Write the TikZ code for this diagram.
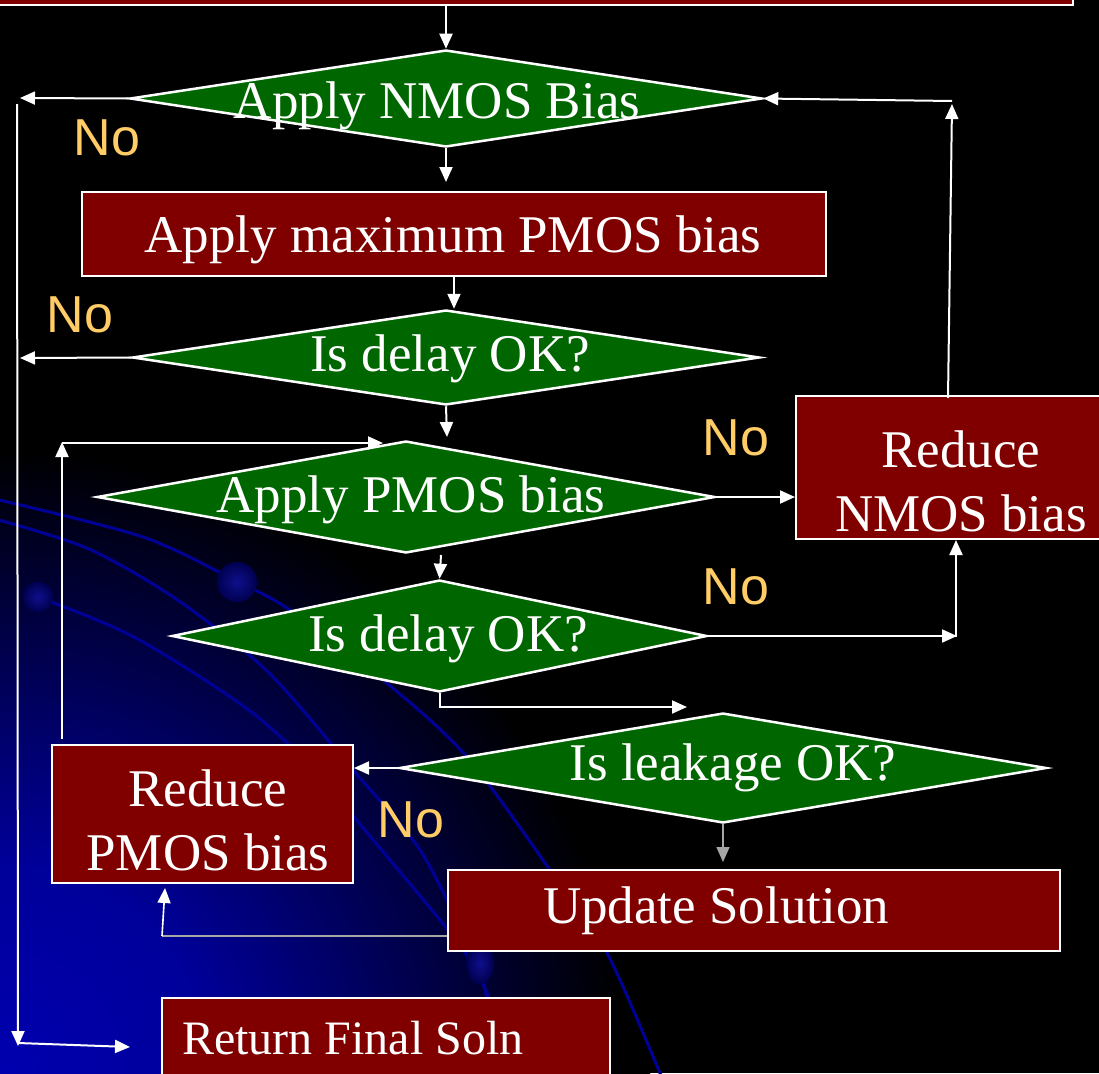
\documentclass[tikz,border=0pt]{standalone}
\usepackage{fontspec}
\setmainfont{Liberation Serif}
\newfontfamily\nofont{Liberation Sans}
\usetikzlibrary{arrows.meta,shapes.geometric}
\definecolor{dgreen}{RGB}{0,102,0}
\definecolor{dred}{RGB}{128,0,0}
\definecolor{noyel}{RGB}{255,204,102}
\definecolor{cb}{RGB}{0,0,175}
\definecolor{bgl}{RGB}{0,0,150}
\definecolor{garr}{RGB}{166,166,166}
\definecolor{ballin}{RGB}{15,15,140}
\definecolor{ballout}{RGB}{0,0,80}
\pgfdeclareradialshading{bluecorner}{\pgfpoint{0bp}{0bp}}{color(0bp)=(cb); color(8bp)=(cb!88!black); color(16bp)=(cb!45!black); color(24bp)=(black); color(50bp)=(black)}
\begin{document}
\begin{tikzpicture}[x=1pt,y=-1pt,
 arr/.style={draw=white, line width=2pt, -{Triangle[length=15pt,width=13pt]}},
 garrow/.style={draw=garr, line width=1.6pt, -{Triangle[length=15pt,width=13pt]}},
 dec/.style={shape=diamond, draw=white, line width=2.5pt, fill=dgreen, inner sep=0pt},
 box/.style={shape=rectangle, draw=white, line width=2pt, fill=dred, inner sep=0pt},
 txt/.style={text=white, font=\fontsize{53}{64}\selectfont, inner sep=0pt, anchor=base},
 notxt/.style={text=noyel, font=\nofont\fontsize{52}{60}\selectfont, inner sep=0pt},
 bgline/.style={draw=bgl, line width=3pt},
]
\useasboundingbox (0,0) rectangle (1099,1073);
\clip (0,0) rectangle (1099,1073);
% background
\fill[black] (0,0) rectangle (1099,1073);
\shade[shading=bluecorner] (0,1073) circle[radius=650pt];
\draw[bgline] plot[smooth] coordinates {(-5,499) (143,537) (238,582) (290,610) (383,680) (467,757) (557,880) (607,953) (660,1073) (670,1100)};
\draw[bgline] plot[smooth] coordinates {(-5,519) (89,549) (179,601) (268,672) (353,770) (420,850) (469,947) (484,985) (500,1073) (505,1100)};
\draw[bgline] plot[smooth] coordinates {(38,597) (134,637) (246,708) (312,768) (379,847) (440,920) (470,960) (492,1005) (515,1073) (520,1100)};
\shade[inner color=ballin, outer color=ballout] (237,582) circle[radius=20pt];
\shade[inner color=ballin, outer color=ballout] (38,597) circle[radius=15pt];
\shade[inner color=ballin, outer color=ballout] (480,963) ellipse[x radius=14pt, y radius=21pt];

% boxes
\node[box, minimum width=1093pt, minimum height=85pt] (B0) at (526.5,-37.5) {};
\node[box, minimum width=744pt, minimum height=84pt] (B1) at (454,234) {};
\node[box, minimum width=314pt, minimum height=143pt] (B2) at (953,467.5) {};
\node[box, minimum width=301pt, minimum height=138pt] (B3) at (202.5,814) {};
\node[box, minimum width=612pt, minimum height=81pt] (B4) at (754,910.5) {};
\node[box, minimum width=448pt, minimum height=112pt] (B5) at (386,1054) {};

% decisions
\node[dec, minimum width=632pt, minimum height=97pt] (D1) at (446,98.5) {};
\node[dec, minimum width=627pt, minimum height=95pt] (D2) at (446,357.5) {};
\node[dec, minimum width=618pt, minimum height=112pt] (D3) at (406,497) {};
\node[dec, minimum width=535pt, minimum height=112pt] (D4) at (439.5,636) {};
\node[dec, minimum width=647pt, minimum height=110pt] (D5) at (723,768) {};

% texts
\node[txt] (tD1) at (437,118) {Apply NMOS Bias};
\node[txt] (tB1) at (453,252) {Apply maximum PMOS bias};
\node[txt] (tD2) at (450,371) {Is delay OK?};
\node[txt] (tD3) at (411,512) {Apply PMOS bias};
\node[txt] (tD4) at (448,651) {Is delay OK?};
\node[txt] (tD5) at (733,780) {Is leakage OK?};
\node[txt] (tB2a) at (961,467) {Reduce};
\node[txt] (tB2b) at (961,531) {NMOS bias};
\node[txt] (tB3a) at (208,806) {Reduce};
\node[txt] (tB3b) at (208,870) {PMOS bias};
\node[txt] (tB4) at (716,923) {Update Solution};
\node[txt, anchor=base west, font=\fontsize{48}{56}\selectfont] (tB5) at (182,1054) {Return Final Soln};

\node[notxt] (N1) at (107,138) {No};
\node[notxt] (N2) at (80,315) {No};
\node[notxt] (N3) at (736,438) {No};
\node[notxt] (N4) at (736,587) {No};
\node[notxt] (N5) at (411,820) {No};

% coordinates
\coordinate (L1) at (20,98);
\coordinate (vt) at (17,104);
\coordinate (vb) at (18,1046);
\coordinate (rs) at (18,1043);
\coordinate (rt) at (130,1047);
\coordinate (L2) at (20,358);
\coordinate (a1) at (446,182);
\coordinate (a3) at (447,437);
\coordinate (a4s) at (441,555);
\coordinate (a5) at (957,636);
\coordinate (a6) at (956,637);
\coordinate (a7) at (687,707);
\coordinate (a8) at (723,862);
\coordinate (a9) at (162,936);
\coordinate (a10) at (165,888);
\coordinate (a11s) at (62,739);
\coordinate (a11) at (62,442);
\coordinate (a11b) at (62,443);
\coordinate (a12) at (383,443);
\coordinate (u1) at (948,398);
\coordinate (u2) at (952,104);
\coordinate (u3) at (952,101);

% connectors
\draw[arr] (D1.north |- B0.south) -- (D1.north);
\draw[arr] (D1.west) -- (L1);
\draw[arr] (vt) -- (vb);
\draw[arr] (rs) -- (rt);
\draw[arr] (D2.west) -- (L2);
\draw[arr] (D1.south) -- (a1);
\draw[arr] (B1.south) -- (B1.south |- D2.north);
\draw[arr] (D2.south) -- (a3);
\draw[arr] (D3.east) -- (D3.east -| B2.west);
\draw[arr] (a4s) -- (D4.north);
\draw[arr] (D4.east) -- (a5);
\draw[arr] (a6) -- (a6 |- B2.south);
\draw[arr] (D4.south) |- (a7);
\draw[arr] (D5.west) -- (D5.west -| B3.east);
\draw[garrow] (D5.south) -- (a8);
\draw[draw=garr, line width=1.6pt] (B4.west |- a9) -- (a9);
\draw[arr, line width=1.6pt] (a9) -- (a10);
\draw[arr] (a11s) -- (a11);
\draw[arr] (a11b) -- (a12);
\draw[arr] (u1) -- (u2);
\draw[arr] (u3) -- (D1.east);
\end{tikzpicture}
\end{document}
